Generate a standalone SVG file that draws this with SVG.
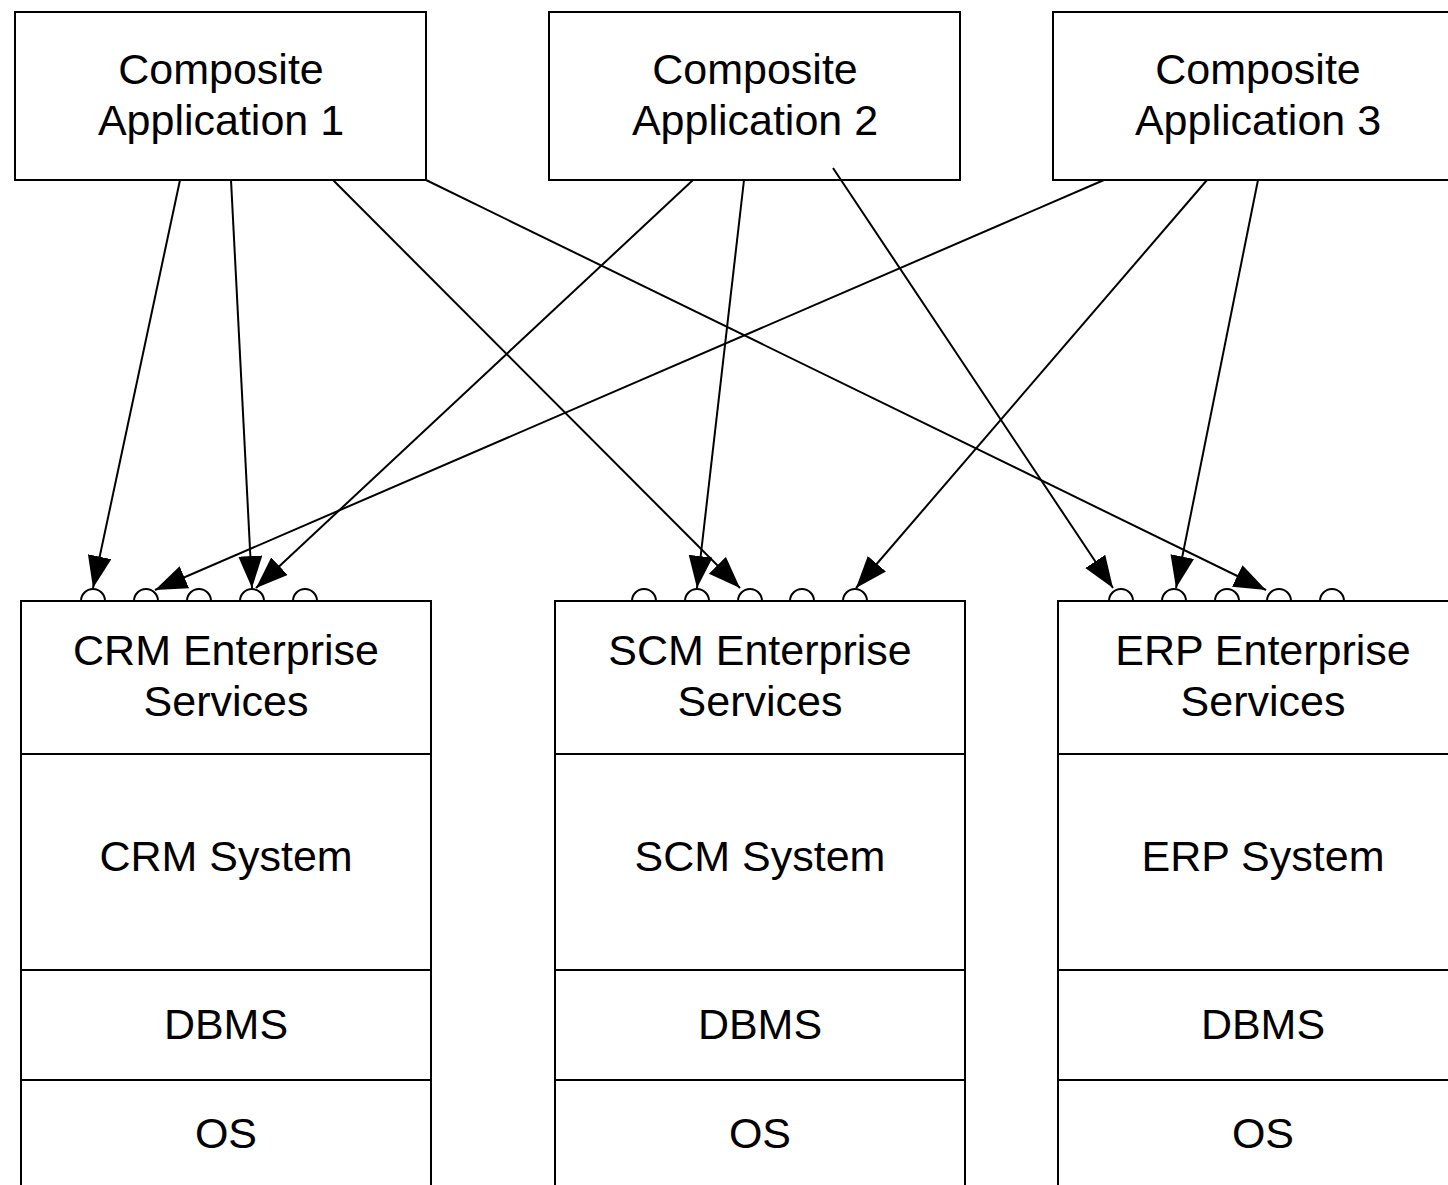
<svg xmlns="http://www.w3.org/2000/svg" width="1448" height="1185" viewBox="0 0 1448 1185">
<style>
.box{fill:#fff;stroke:#000;stroke-width:2}
.t{font-family:"Liberation Sans",Arial,sans-serif;font-size:43px;text-anchor:middle;fill:#000}
.sep{stroke:#000;stroke-width:2}
.port{fill:#fff;stroke:#000;stroke-width:2}
.c{stroke:#000;stroke-width:2;fill:none;marker-end:url(#ah)}
</style>
<defs>
<marker id="ah" markerUnits="userSpaceOnUse" markerWidth="34" markerHeight="26" refX="32" refY="12" orient="auto">
<path d="M0,0 L32,12 L0,24 z" fill="#000"/>
</marker>
</defs>
<rect width="1448" height="1185" fill="#fff"/>
<g id="app1"><rect class="box" x="15" y="12" width="411" height="168"/><text class="t" x="221" y="84">Composite</text><text class="t" x="221" y="135">Application 1</text></g>
<g id="app2"><rect class="box" x="549" y="12" width="411" height="168"/><text class="t" x="755" y="84">Composite</text><text class="t" x="755" y="135">Application 2</text></g>
<g id="app3"><rect class="box" x="1053" y="12" width="411" height="168"/><text class="t" x="1258" y="84">Composite</text><text class="t" x="1258" y="135">Application 3</text></g>

<g id="crm">
<path class="port" d="M81,601 A12,12 0 0 1 105,601 M134,601 A12,12 0 0 1 158,601 M187,601 A12,12 0 0 1 211,601 M240,601 A12,12 0 0 1 264,601 M293,601 A12,12 0 0 1 317,601"/>
<rect class="box" x="21" y="601" width="410" height="600"/>
<line class="sep" x1="21" y1="754" x2="431" y2="754"/><line class="sep" x1="21" y1="970" x2="431" y2="970"/><line class="sep" x1="21" y1="1080" x2="431" y2="1080"/>
<text class="t" x="226" y="665">CRM Enterprise</text><text class="t" x="226" y="716">Services</text>
<text class="t" x="226" y="871">CRM System</text><text class="t" x="226" y="1039">DBMS</text><text class="t" x="226" y="1148">OS</text>
</g>
<g id="scm">
<path class="port" d="M632,601 A12,12 0 0 1 656,601 M685,601 A12,12 0 0 1 709,601 M738,601 A12,12 0 0 1 762,601 M790,601 A12,12 0 0 1 814,601 M843,601 A12,12 0 0 1 867,601"/>
<rect class="box" x="555" y="601" width="410" height="600"/>
<line class="sep" x1="555" y1="754" x2="965" y2="754"/><line class="sep" x1="555" y1="970" x2="965" y2="970"/><line class="sep" x1="555" y1="1080" x2="965" y2="1080"/>
<text class="t" x="760" y="665">SCM Enterprise</text><text class="t" x="760" y="716">Services</text>
<text class="t" x="760" y="871">SCM System</text><text class="t" x="760" y="1039">DBMS</text><text class="t" x="760" y="1148">OS</text>
</g>
<g id="erp">
<path class="port" d="M1109,601 A12,12 0 0 1 1133,601 M1162,601 A12,12 0 0 1 1186,601 M1215,601 A12,12 0 0 1 1239,601 M1267,601 A12,12 0 0 1 1291,601 M1320,601 A12,12 0 0 1 1344,601"/>
<rect class="box" x="1058" y="601" width="411" height="600"/>
<line class="sep" x1="1058" y1="754" x2="1469" y2="754"/><line class="sep" x1="1058" y1="970" x2="1469" y2="970"/><line class="sep" x1="1058" y1="1080" x2="1469" y2="1080"/>
<text class="t" x="1263" y="665">ERP Enterprise</text><text class="t" x="1263" y="716">Services</text>
<text class="t" x="1263" y="871">ERP System</text><text class="t" x="1263" y="1039">DBMS</text><text class="t" x="1263" y="1148">OS</text>
</g>

<g id="connectors">
<line class="c" x1="180" y1="180" x2="93" y2="588"/>
<line class="c" x1="231" y1="180" x2="252" y2="588"/>
<line class="c" x1="333" y1="180" x2="740" y2="588"/>
<line class="c" x1="426" y1="180" x2="1266" y2="590"/>
<line class="c" x1="693" y1="180" x2="256" y2="588"/>
<line class="c" x1="744" y1="180" x2="697" y2="588"/>
<line class="c" x1="833" y1="168" x2="1113" y2="588"/>
<line class="c" x1="1104" y1="180" x2="155" y2="590"/>
<line class="c" x1="1207" y1="180" x2="856" y2="588"/>
<line class="c" x1="1258" y1="180" x2="1176" y2="588"/>
</g>
</svg>
